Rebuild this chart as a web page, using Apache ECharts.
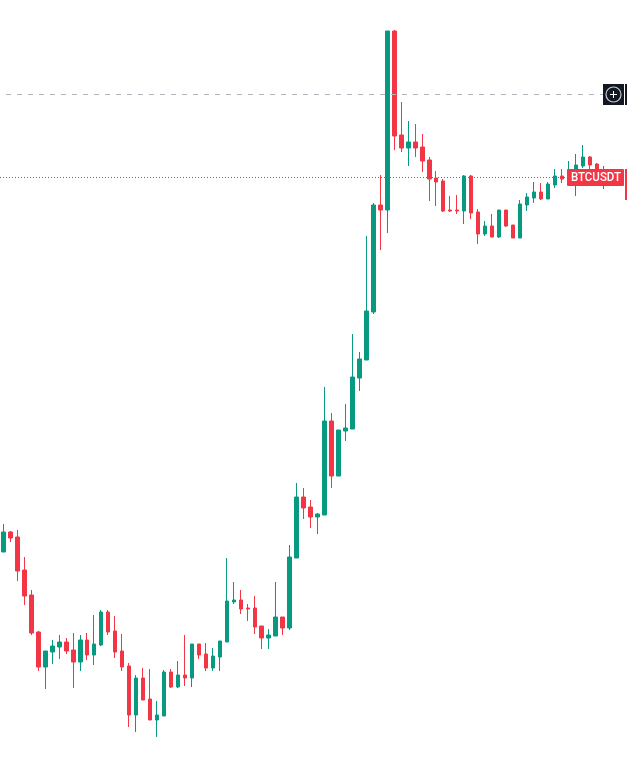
<!DOCTYPE html>
<html><head><meta charset="utf-8">
<style>html,body{margin:0;padding:0;background:#fff}#c{width:627px;height:758px}</style>
<script src="https://cdn.jsdelivr.net/npm/echarts@6/dist/echarts.min.js"></script>
</head><body><div id="c"></div>
<script>
const symbol = 'BTCUSDT';
const upColor = '#089981';
const downColor = '#f23645';
const opens = [206,226,221,188,163,126,91,106,111,116,108,96,118,103,113,146,127,107,92,43,80,59,38,42,86,71,83,80,114,104,90,101,116,156,158,150,150,132,120,122,141,130,200,261,251,241,243,337,282,327,329,380,398,446,553,548,727,623,610,616,611,598,580,577,548,548,547,582,546,524,532,521,548,533,520,553,560,566,559,573,582,580,582,592,601,594,578,586,578];
const closes = [226,220,187,162,125,91,107,112,116,107,96,118,103,114,146,126,106,91,43,80,58,38,43,86,71,83,80,114,103,90,102,117,157,158,149,149,131,120,123,141,130,201,261,250,241,244,337,282,328,330,381,399,447,553,548,727,622,610,616,610,597,579,576,547,547,547,582,545,524,532,521,548,532,520,554,561,566,559,574,582,579,586,593,601,593,586,586,578,574];
const lows = [206,216,177,153,123,87,69,94,99,104,70,87,98,93,112,123,100,87,31,26,58,38,21,42,70,70,72,71,99,87,87,87,116,154,144,137,124,109,109,122,123,128,200,239,230,224,243,270,282,317,329,367,398,444,508,525,608,606,592,601,586,557,552,546,546,544,534,539,514,522,521,520,531,520,520,547,555,558,559,570,575,574,562,590,588,582,569,574,574];
const highs = [234,227,228,201,168,127,107,118,123,120,125,123,125,143,148,148,142,124,95,83,90,89,57,88,89,97,123,114,114,115,110,117,200,176,168,154,162,132,129,176,141,213,275,270,258,245,371,345,328,354,424,406,522,555,583,727,728,656,637,634,624,601,587,579,562,563,583,583,549,537,544,548,548,533,558,565,576,575,576,589,589,597,604,613,602,595,592,588,582];
const crosshairLevel = 663.5;
const lastPriceLevel = 580.5;

const categories = opens.map((_, i) => i);
const candles = opens.map((o, i) => [o, closes[i], lows[i], highs[i]]);

const chart = echarts.init(document.getElementById('c'), null, {renderer: 'canvas'});
chart.setOption({
  animation: false,
  backgroundColor: '#ffffff',
  grid: {left: 0, top: 0, width: 621.2, height: 758, containLabel: false},
  xAxis: {type: 'category', data: categories, show: false, boundaryGap: true},
  yAxis: {type: 'value', min: 0, max: 758, show: false, splitLine: {show: false}},
  series: [{
    type: 'candlestick',
    data: candles,
    barWidth: 4,
    clip: false,
    itemStyle: {color: upColor, color0: downColor, borderColor: upColor, borderColor0: downColor, borderWidth: 1},
    markLine: {
      silent: true,
      symbol: 'none',
      label: {show: false},
      animation: false,
      data: [
        {yAxis: crosshairLevel, x: 0, lineStyle: {color: '#b2b5be', width: 1, type: [5, 6], dashOffset: 5}},
        {yAxis: lastPriceLevel, lineStyle: {color: downColor, width: 1, type: [1, 2]}}
      ]
    }
  }],
  graphic: [
    {type: 'rect', z: 100, shape: {x: 567, y: 169, width: 57, height: 17, r: 1}, style: {fill: downColor}},
    {type: 'text', z: 101, x: 596, y: 178, scaleX: 0.92, style: {text: symbol, fill: '#ffffff', font: '500 12.5px Roboto, sans-serif', align: 'center', verticalAlign: 'middle'}},
    {type: 'rect', z: 100, shape: {x: 625, y: 169, width: 2, height: 31}, style: {fill: downColor}},
    {type: 'rect', z: 100, shape: {x: 603, y: 84, width: 21, height: 21}, style: {fill: '#131722'}},
    {type: 'rect', z: 100, shape: {x: 625, y: 84, width: 2, height: 21}, style: {fill: '#131722'}},
    {type: 'circle', z: 101, shape: {cx: 613.5, cy: 94.5, r: 7.5}, style: {fill: 'none', stroke: '#c8cad0', lineWidth: 1.2}},
    {type: 'line', z: 101, shape: {x1: 610, y1: 94.5, x2: 617, y2: 94.5}, style: {stroke: '#ffffff', lineWidth: 1}},
    {type: 'line', z: 101, shape: {x1: 613.5, y1: 91, x2: 613.5, y2: 98}, style: {stroke: '#ffffff', lineWidth: 1}}
  ]
});
</script></body></html>
